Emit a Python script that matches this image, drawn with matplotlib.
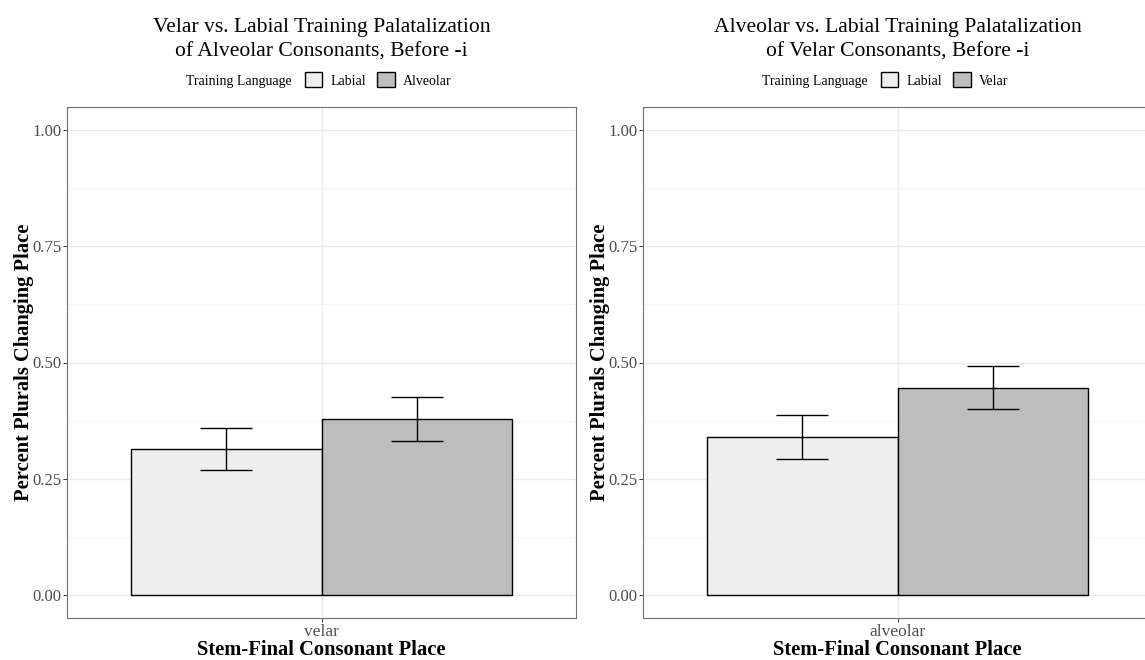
import matplotlib.pyplot as plt
from matplotlib.ticker import FixedLocator

plt.rcParams['font.family'] = ['Liberation Serif', 'DejaVu Serif']

W, H = 1145, 660

# data: proportion of plurals changing place, mean and standard error
groups = ['Labial', 'Alveolar']
left_place = 'velar'
left_means = [0.314, 0.379]
left_err = [0.045, 0.047]

groups_r = ['Labial', 'Velar']
right_place = 'alveolar'
right_means = [0.340, 0.446]
right_err = [0.047, 0.047]

titles = ['Velar vs. Labial Training Palatalization\nof Alveolar Consonants, Before -i',
          'Alveolar vs. Labial Training Palatalization\nof Velar Consonants, Before -i']

fills = ['#eeeeee', '#bdbdbd']

fig = plt.figure(figsize=(W / 100, H / 100), dpi=100)


def panel(x0, place, labels, means, errs, title):
    ax = fig.add_axes([x0 / W, 42 / H, 509 / W, 511 / H])
    centers = [1 - 0.225, 1 + 0.225]
    bars = []
    for c, m, col, lab in zip(centers, means, fills, labels):
        b = ax.bar(c, m, width=0.45, color=col, edgecolor='black', linewidth=1.0,
                   label=lab, zorder=3)
        bars.append(b)
    ax.errorbar(centers, means, yerr=errs, fmt='none', ecolor='black',
                elinewidth=1.0, capsize=19, capthick=1.0, zorder=4)

    ax.set_xlim(0.4, 1.6)
    ax.set_ylim(-0.05, 1.05)
    ax.set_xticks([1])
    ax.set_xticklabels([place])
    ax.set_yticks([0, 0.25, 0.5, 0.75, 1.0])
    ax.set_yticklabels(['0.00', '0.25', '0.50', '0.75', '1.00'])
    ax.yaxis.set_minor_locator(FixedLocator([0.125, 0.375, 0.625, 0.875]))
    ax.grid(True, which='major', color='#ebebeb', linewidth=1.0, zorder=0)
    ax.grid(True, which='minor', axis='y', color='#f2f2f2', linewidth=0.6, zorder=0)
    ax.set_axisbelow(True)
    ax.tick_params(which='major', length=3, width=0.7, color='#333333',
                   labelcolor='#4d4d4d', labelsize=12, pad=1)
    ax.tick_params(axis='x', labelsize=12.5, pad=1)
    ax.tick_params(which='minor', length=0)
    for s in ax.spines.values():
        s.set_color('#6f6f6f')
        s.set_linewidth(0.8)

    ax.set_ylabel('Percent Plurals Changing Place', fontsize=14.8, fontweight='bold', va='center')
    ax.yaxis.set_label_coords(-43 / 509, 0.5)
    ax.set_xlabel('Stem-Final Consonant Place', fontsize=14.8, fontweight='bold', va='center')
    ax.xaxis.set_label_coords(0.5, -32 / 511)

    cx = (x0 + 254.5) / W
    fig.text(cx, 1 - 40 / H, title, ha='center', va='center', fontsize=15.6,
             linespacing=1.4)
    # legend row above the panel
    fig.text((x0 + 225) / W, 1 - 81 / H, 'Training Language', ha='right', va='center',
             fontsize=10)
    fig.legend(handles=bars, labels=labels, loc='center left',
               bbox_to_anchor=((x0 + 238) / W, 1 - 80 / H), ncol=2, frameon=False,
               fontsize=10, handlelength=1.25, handleheight=1.25, handletextpad=0.6,
               columnspacing=0.8, borderpad=0, borderaxespad=0)
    return ax


panel(67, left_place, groups, left_means, left_err, titles[0])
panel(643, right_place, groups_r, right_means, right_err, titles[1])

fig.savefig('out.png', dpi=100)
